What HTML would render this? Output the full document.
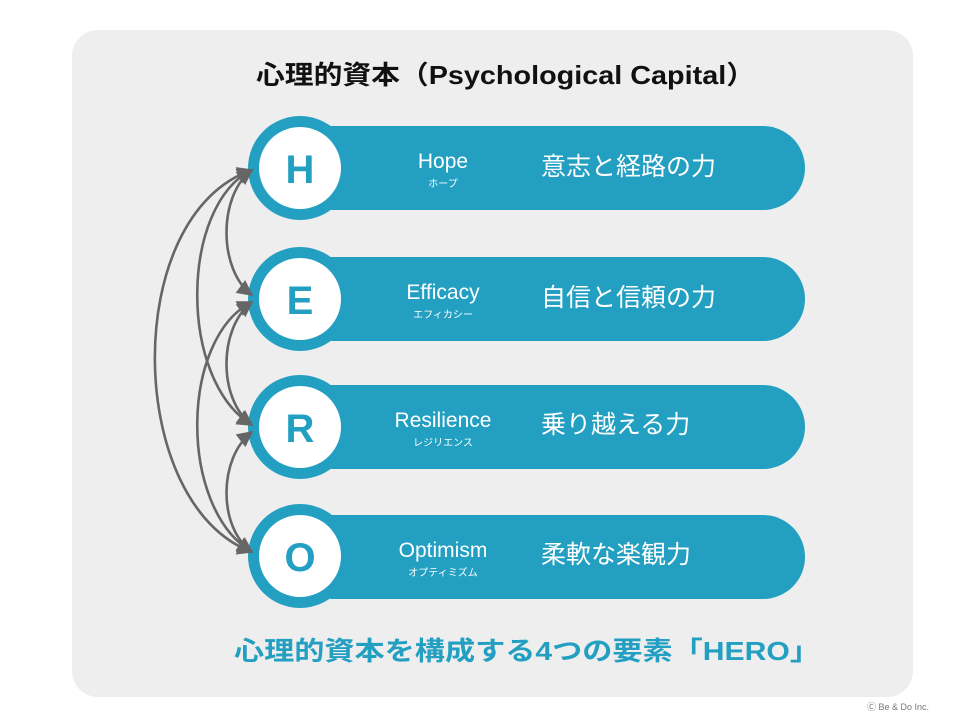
<!DOCTYPE html>
<html><head><meta charset="utf-8"><style>
body{margin:0;width:960px;height:720px;background:#fff;overflow:hidden}
text{font-family:"Liberation Sans","Noto Sans CJK JP",sans-serif}
</style></head><body>
<svg width="960" height="720" viewBox="0 0 960 720" xmlns="http://www.w3.org/2000/svg">
<defs>
<marker id="a" viewBox="0 0 10 10" refX="9" refY="5" markerWidth="18" markerHeight="16" markerUnits="userSpaceOnUse" orient="auto-start-reverse">
<path d="M0,0 L10,5 L0,10 z" fill="#666"/>
</marker>
</defs>
<rect x="72" y="30" width="841" height="667" rx="26" fill="#eeeeee"/>
<text x="256" y="84" font-size="26" font-weight="bold" fill="#111" textLength="499" lengthAdjust="spacingAndGlyphs">心理的資本（Psychological Capital）</text>

<g fill="#239fc2">
<path d="M330,126 H763 A42,42 0 0 1 763,210 H330 Z"/>
<circle cx="300" cy="168" r="52"/>
<path d="M330,257 H763 A42,42 0 0 1 763,341 H330 Z"/>
<circle cx="300" cy="299" r="52"/>
<path d="M330,385 H763 A42,42 0 0 1 763,469 H330 Z"/>
<circle cx="300" cy="427" r="52"/>
<path d="M330,515 H763 A42,42 0 0 1 763,599 H330 Z"/>
<circle cx="300" cy="556" r="52"/>
</g>
<g fill="#fff">
<circle cx="300" cy="168" r="41"/>
<circle cx="300" cy="299" r="41"/>
<circle cx="300" cy="427" r="41"/>
<circle cx="300" cy="556" r="41"/>
</g>
<g fill="#239fc2" font-size="40" font-weight="bold" text-anchor="middle">
<text x="300" y="183">H</text>
<text x="300" y="314">E</text>
<text x="300" y="442">R</text>
<text x="300" y="571">O</text>
</g>
<g fill="#fff" text-anchor="middle">
<text x="443" y="168" font-size="21">Hope</text>
<text x="443" y="187" font-size="10">ホープ</text>
<text x="443" y="299" font-size="21">Efficacy</text>
<text x="443" y="318" font-size="10">エフィカシー</text>
<text x="443" y="427" font-size="21">Resilience</text>
<text x="443" y="446" font-size="10">レジリエンス</text>
<text x="443" y="557" font-size="21">Optimism</text>
<text x="443" y="576" font-size="10">オプティミズム</text>
</g>
<g fill="#fff" font-size="25">
<text x="541" y="175">意志と経路の力</text>
<text x="541" y="306">自信と信頼の力</text>
<text x="541" y="433">乗り越える力</text>
<text x="541" y="563">柔軟な楽観力</text>
</g>
<g fill="none" stroke="#666" stroke-width="2.6" marker-start="url(#a)" marker-end="url(#a)">
<path d="M252,170 C218,195 218,270 252,295"/>
<path d="M252,302 C218,328 218,400 252,425"/>
<path d="M252,432 C218,458 218,528 252,552"/>
<path d="M252,170 C180,205 178,380 252,425"/>
<path d="M252,302 C180,338 178,508 252,552"/>
<path d="M252,170 C120,215 125,505 252,552"/>
</g>
<text x="234" y="660" font-size="26" font-weight="bold" fill="#239fc2" textLength="586" lengthAdjust="spacingAndGlyphs">心理的資本を構成する4つの要素「HERO」</text>
<text x="898" y="710" text-anchor="middle" font-size="9" fill="#777">Ⓒ Be &amp; Do Inc.</text>
</svg>
</body></html>
